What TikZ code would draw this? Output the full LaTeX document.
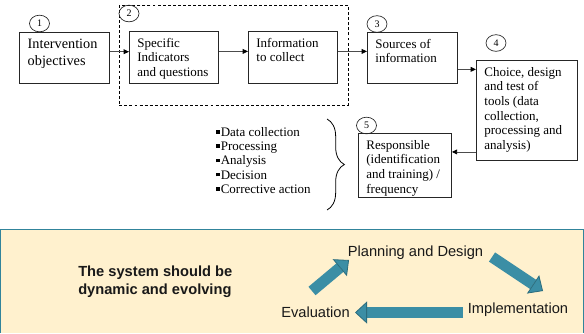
\documentclass[tikz,border=0pt]{standalone}
\usepackage{fontspec}
\setmainfont{Liberation Serif}
\setsansfont{Liberation Sans}
\usetikzlibrary{arrows.meta,shapes.geometric,decorations.pathreplacing}
\definecolor{panelfill}{HTML}{FFF1CE}
\definecolor{panelline}{HTML}{31849B}
\definecolor{arrowfill}{HTML}{3B8EA5}
\definecolor{arrowline}{HTML}{2B6C7D}
\newcommand{\boxtext}[3]{\parbox[t][#2][t]{#1}{\raggedright #3}}
\newcommand{\sqitem}{\rule[0.22em]{2.6pt}{2.6pt}\hspace{0.8pt}}
\tikzset{
  procbox/.style={draw=black!85, line width=0.6pt, inner xsep=6pt, inner ysep=5pt,
    anchor=north west, font=\fontsize{9.75}{11}\selectfont},
  groupbox/.style={draw, dash pattern=on 2.2pt off 1.6pt, line width=0.5pt,
    minimum width=171.75pt, minimum height=75pt, inner sep=0pt, anchor=north west},
  stepmark/.style={ellipse, draw=black!85, line width=0.5pt, minimum width=15pt,
    minimum height=12.5pt, inner sep=0pt, font=\fontsize{7.5}{8}\selectfont},
  listtext/.style={align=left, anchor=west, inner sep=0pt, font=\fontsize{9.75}{10.7}\selectfont},
  flow/.style={draw=black!70, line width=0.6pt, -{Triangle[length=4pt,width=3.6pt,color=black]}},
  cyclelabel/.style={font=\fontsize{11}{13.5}\sffamily\selectfont, text=black!90, inner sep=0pt},
  cycleedge/.style={line width=8.25pt, draw=arrowfill,
    -{Triangle[length=9pt,width=16.5pt,line width=0.6pt,color=arrowline,fill=arrowfill]},
    preaction={draw=arrowline, line width=9.45pt, -, shorten >=7pt, shorten <=-0.6pt}}
}
\begin{document}
\begin{tikzpicture}[x=0.75pt,y=-0.75pt]
  \useasboundingbox (0,0) rectangle (584,333);
  % lower panel
  \fill[panelfill] (0,229) rectangle (584,333);
  \draw[panelline, line width=0.9pt] (0.5,333) -- (0.5,229.5) -- (583.5,229.5) -- (583.5,333);
  % process chain
  \draw
    (119,5) node[groupbox] (grp) {}
    (19,32) node[procbox, line width=1.1pt, font=\fontsize{10.7}{12.8}\selectfont] (obj)
      {\boxtext{55.5pt}{28.25pt}{Intervention\\objectives}}
    (129,31) node[procbox] (spec) {\boxtext{54.75pt}{29pt}{Specific\\Indicators\\and questions}}
    (248,31) node[procbox] (info) {\boxtext{54.75pt}{29pt}{Information\\to collect}}
    (367,32) node[procbox] (src) {\boxtext{55.5pt}{28.25pt}{Sources of\\information}}
    (476,60) node[procbox] (choice) {\boxtext{63.75pt}{65pt}{Choice, design\\and test of\\tools (data\\collection,\\processing and\\analysis)}}
    (358,133) node[procbox] (resp)
      {\boxtext{57.75pt}{38pt}{Responsible\\(identification\\and training) /\\frequency}}
    (216,160.5) node[listtext] (tasks) {\sqitem Data collection\\\sqitem Processing\\\sqitem Analysis\\\sqitem Decision\\\sqitem Corrective action};
  \draw
    (39.5,23.5) node[stepmark] (m1) {1}
    (129,13.5) node[stepmark] (m2) {2}
    (377,24) node[stepmark] (m3) {3}
    (496,43) node[stepmark] (m4) {4}
    (366.5,125.5) node[stepmark] (m5) {5};
  \begin{scope}[flow]
    \draw ([yshift=4.9pt]obj.east) coordinate (f1) to (f1 -| spec.west);
    \draw ([yshift=4.5pt]spec.east) coordinate (f2) to (f2 -| info.west);
    \draw ([yshift=4.5pt]info.east) coordinate (f3) to (f3 -| src.west);
    \draw ([yshift=-8.6pt]src.east) coordinate (f4) to (f4 -| choice.west);
    \coordinate (f5) at ([yshift=10.1pt]resp.east);
    \draw (choice.west |- f5) to (f5);
  \end{scope}
  \draw[decorate, decoration={brace, amplitude=13pt}, line width=0.6pt] (327,119) -- (327,210);
  % cycle
  \draw
    (78,282) node[cyclelabel, anchor=west, align=left, font=\fontsize{11}{13.5}\sffamily\bfseries] (motto)
      {The system should be\\dynamic and evolving}
    (415.5,253) node[cyclelabel] (plan) {Planning and Design}
    (518,310) node[cyclelabel] (impl) {Implementation}
    (315.5,312) node[cyclelabel] (eval) {Evaluation};
  \coordinate (evalout) at (312,291);
  \coordinate (planin) at (349,260);
  \coordinate (planout) at (492,257);
  \coordinate (implin) at (543,291);
  \coordinate (implout) at (463,312.5);
  \coordinate (evalin) at (355,312.5);
  \begin{scope}[cycleedge]
    \draw (evalout) to (planin);
    \draw (planout) to (implin);
    \draw (implout) to (evalin);
  \end{scope}
\end{tikzpicture}
\end{document}
